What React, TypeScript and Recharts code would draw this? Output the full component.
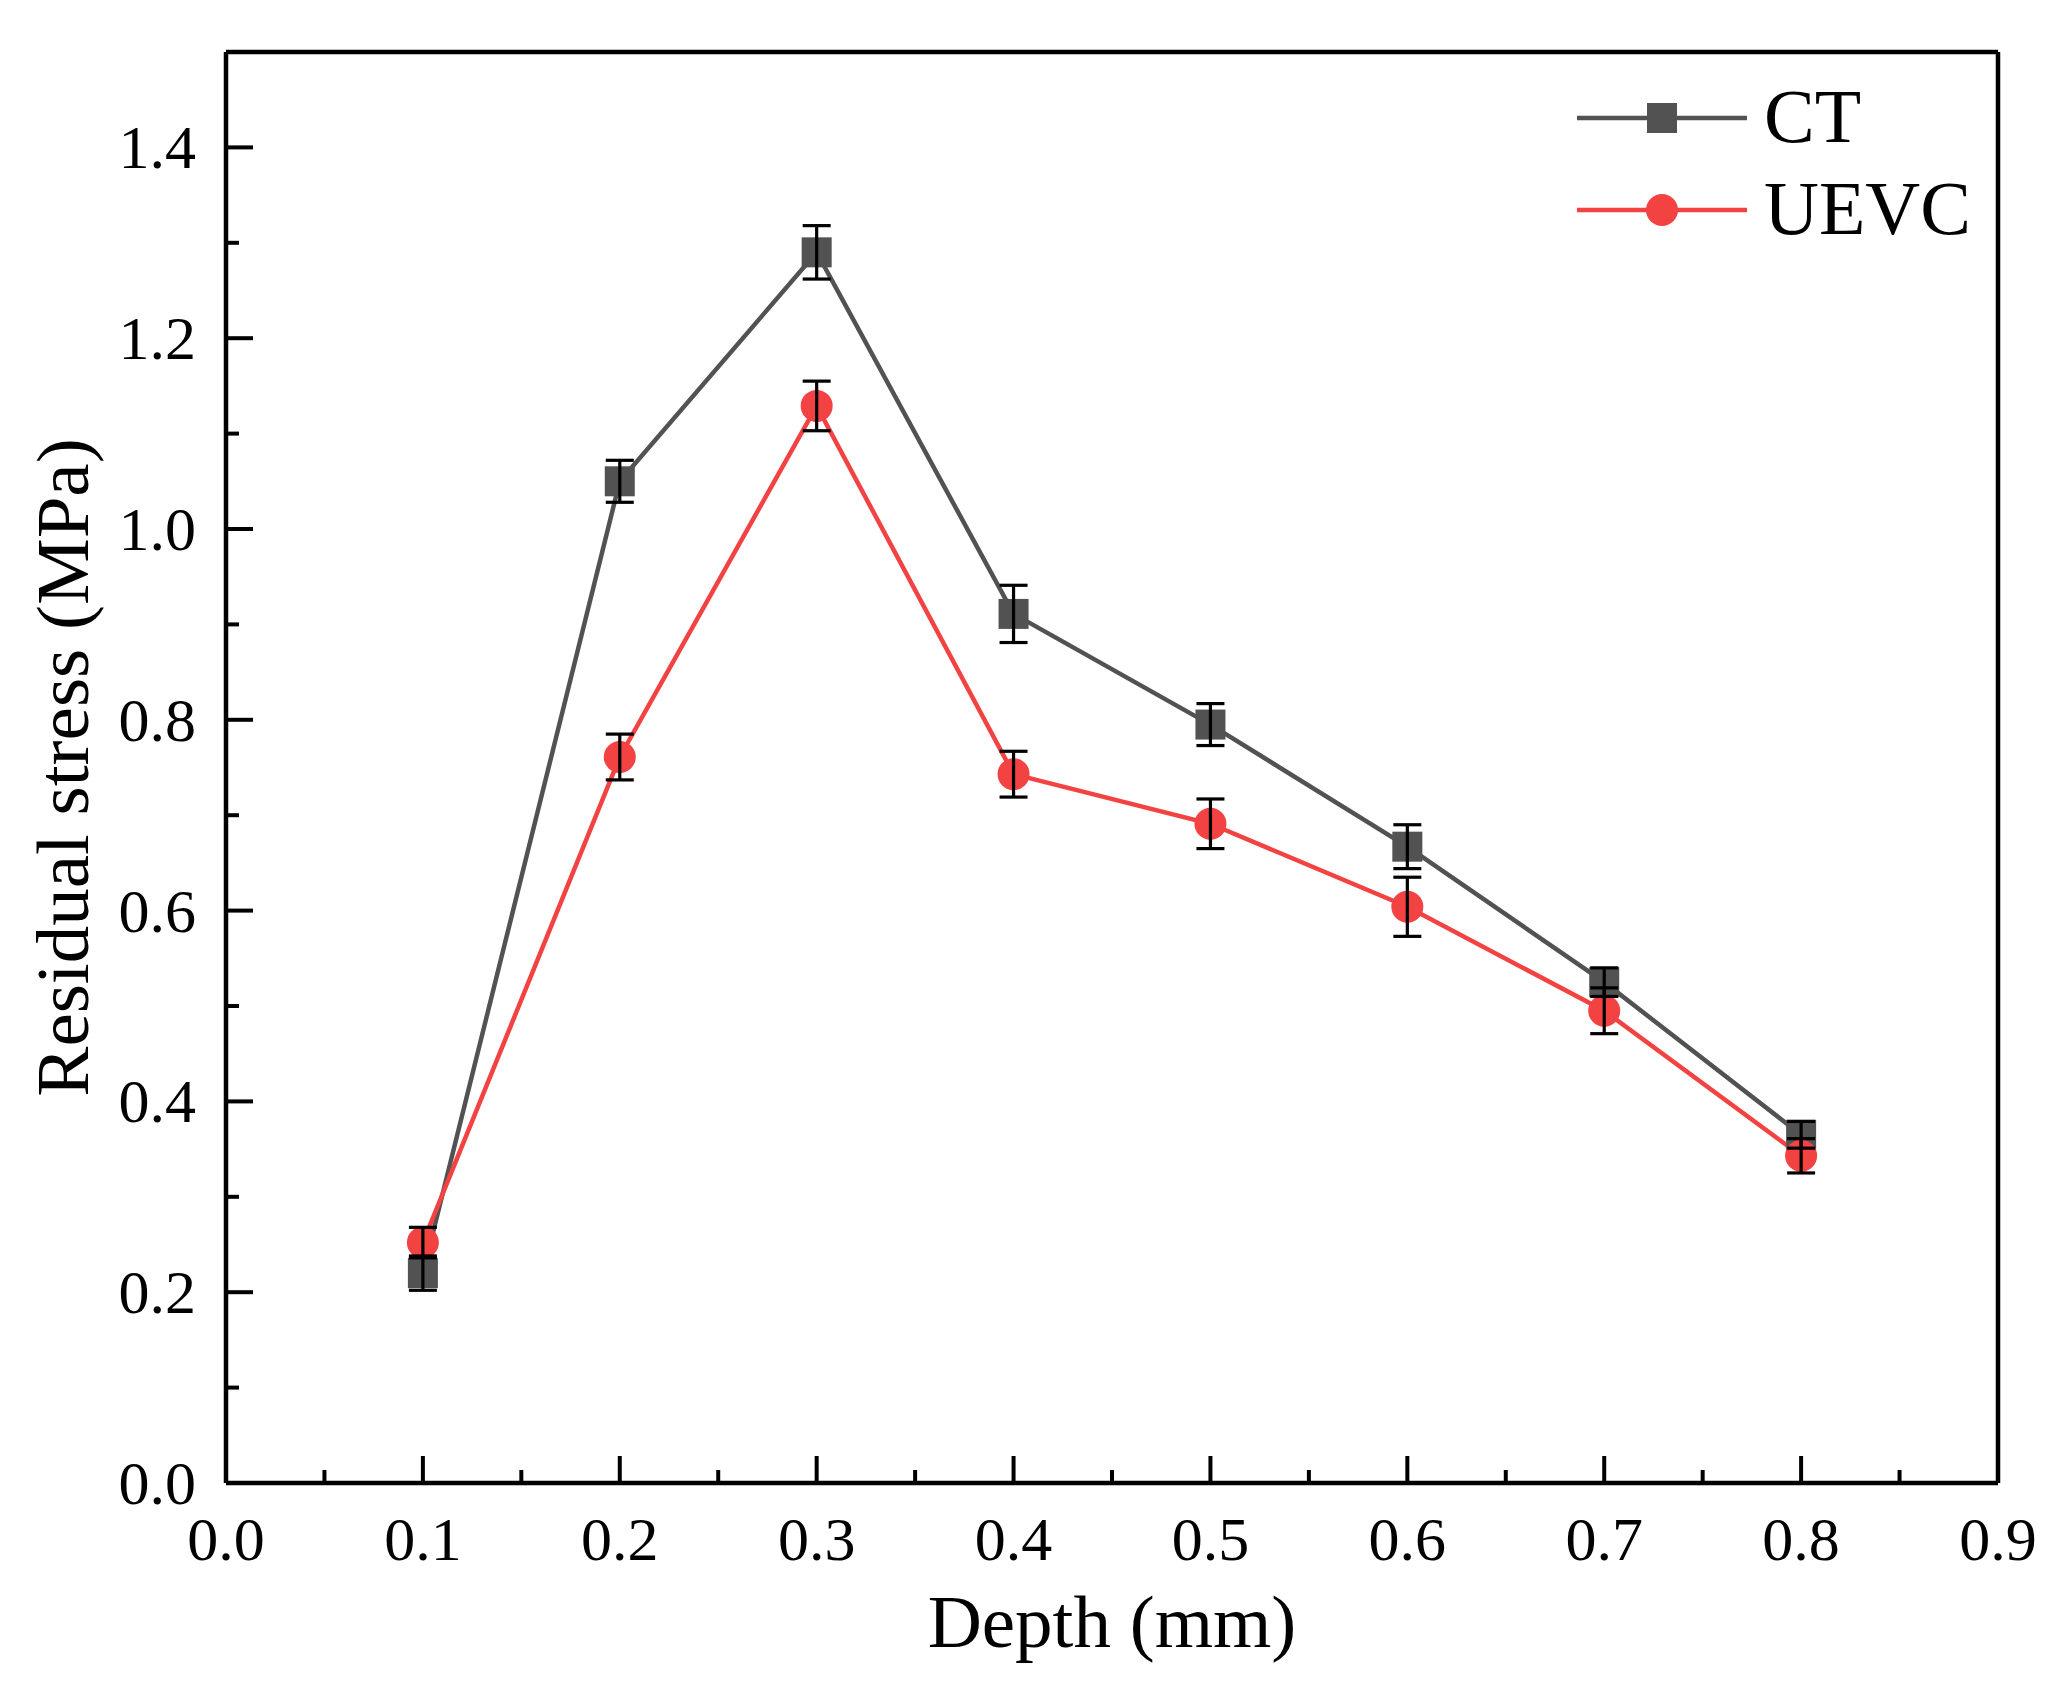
import React from 'react'
import { LineChart, Line, XAxis, YAxis, ErrorBar, Legend } from 'recharts'

// values
const depth = [0.1, 0.2, 0.3, 0.4, 0.5, 0.6, 0.7, 0.8]
const ctStress = [0.22, 1.05, 1.29, 0.911, 0.795, 0.667, 0.525, 0.365]
const ctErr = [0.018, 0.022, 0.028, 0.03, 0.022, 0.023, 0.015, 0.014]
const uevcStress = [0.252, 0.761, 1.129, 0.743, 0.691, 0.604, 0.495, 0.343]
const uevcErr = [0.016, 0.024, 0.026, 0.024, 0.026, 0.031, 0.024, 0.018]

const xTicks = [0, 0.05, 0.1, 0.15, 0.2, 0.25, 0.3, 0.35, 0.4, 0.45, 0.5, 0.55, 0.6, 0.65, 0.7, 0.75, 0.8, 0.85, 0.9]
const yTicks = [0, 0.1, 0.2, 0.3, 0.4, 0.5, 0.6, 0.7, 0.8, 0.9, 1.0, 1.1, 1.2, 1.3, 1.4]

const rows = depth.map((d, i) => ({
  depth: d,
  ct: ctStress[i],
  ctErr: ctErr[i],
  uevc: uevcStress[i],
  uevcErr: uevcErr[i],
}))

const FONT = '"Liberation Serif", "Times New Roman", Times, serif'
const GRAY = '#525252'
const RED = '#F24242'

const XTick = (props: any) => {
  const { x, y, payload } = props
  const v = payload.value
  const major = Math.abs(v * 10 - Math.round(v * 10)) < 1e-6
  return (
    <g>
      <line x1={x} x2={x} y1={y} y2={y - (major ? 27 : 13)} stroke="#000" strokeWidth={4} />
      {major && (
        <text x={x} y={y + 77} textAnchor="middle" fontSize={62} fontFamily={FONT} fill="#000">
          {v.toFixed(1)}
        </text>
      )}
    </g>
  )
}

const YTick = (props: any) => {
  const { x, y, payload } = props
  const v = payload.value
  const major = Math.round(v * 10) % 2 === 0
  return (
    <g>
      <line x1={x} x2={x + (major ? 27 : 13)} y1={y} y2={y} stroke="#000" strokeWidth={4} />
      {major && (
        <text x={x - 30} y={y + 21} textAnchor="end" fontSize={62} fontFamily={FONT} fill="#000">
          {v.toFixed(1)}
        </text>
      )}
    </g>
  )
}

const SquareDot = (props: any) => {
  const { cx, cy, index } = props
  if (cx == null || cy == null) return null
  return <rect key={'sq' + index} x={cx - 15} y={cy - 15} width={30} height={30} fill={GRAY} />
}

const renderLegend = (props: any) => {
  const items = (props.payload || []).filter((p: any) => p.type !== 'none')
  return (
    <svg width={460} height={200}>
      {items.map((p: any, i: number) => {
        const cy = 58 + i * 92
        return (
          <g key={p.value}>
            <line x1={17} x2={187} y1={cy} y2={cy} stroke={p.color} strokeWidth={4.5} />
            {p.dataKey === 'ct' ? (
              <rect x={87} y={cy - 15} width={30} height={30} fill={p.color} />
            ) : (
              <circle cx={102} cy={cy} r={16} fill={p.color} />
            )}
            <text x={204} y={cy + 24} fontSize={76} fontFamily={FONT} fill="#000">
              {p.value}
            </text>
          </g>
        )
      })}
    </svg>
  )
}

const YLabel = (props: any) => {
  const { x, y, height } = props.viewBox
  const cx = x + 88
  const cy = y + height / 2
  return (
    <text x={cx} y={cy} transform={`rotate(-90 ${cx} ${cy})`} textAnchor="middle" fontSize={75} fontFamily={FONT} fill="#000">
      Residual stress (MPa)
    </text>
  )
}

const XLabel = (props: any) => {
  const { x, y, width } = props.viewBox
  return (
    <text x={x + width / 2} y={y + 164} textAnchor="middle" fontSize={75} fontFamily={FONT} fill="#000">
      Depth (mm)
    </text>
  )
}

const frame = { stroke: '#000', strokeWidth: 4.5 }

export default function App() {
  return (
    <div style={{ position: 'absolute', left: 0, top: 0, width: 2060, height: 1698, background: '#fff' }}>
      <LineChart width={2060} height={1698} data={rows} margin={{ top: 51, right: 61, bottom: 0, left: 0 }}>
        <XAxis
          dataKey="depth"
          type="number"
          domain={[0, 0.9]}
          ticks={xTicks}
          interval={0}
          height={215}
          tickSize={0}
          tickMargin={0}
          tickLine={false}
          tick={<XTick />}
          axisLine={frame}
          label={<XLabel />}
        />
        <XAxis xAxisId="top" dataKey="depth" orientation="top" type="number" domain={[0, 0.9]} height={1} tick={false} tickLine={false} axisLine={frame} />
        <YAxis
          type="number"
          domain={[0, 1.5]}
          ticks={yTicks}
          interval={0}
          width={226}
          tickSize={0}
          tickMargin={0}
          tickLine={false}
          tick={<YTick />}
          axisLine={frame}
          label={<YLabel />}
        />
        <YAxis yAxisId="right" orientation="right" type="number" domain={[0, 1.5]} width={1} tick={false} tickLine={false} axisLine={frame} />
        <Line dataKey="ct" name="CT" stroke={GRAY} strokeWidth={4.5} dot={SquareDot} activeDot={false} isAnimationActive={false} />
        <Line dataKey="uevc" name="UEVC" stroke={RED} strokeWidth={4.5} dot={{ r: 16, fill: RED, stroke: RED, strokeWidth: 0 }} activeDot={false} isAnimationActive={false} />
        <Line xAxisId="top" yAxisId="right" dataKey="ct" stroke="none" dot={false} activeDot={false} legendType="none" isAnimationActive={false}>
          <ErrorBar dataKey="ctErr" width={14} stroke="#000" strokeWidth={3.2} direction="y" isAnimationActive={false} zIndex={2000} />
        </Line>
        <Line xAxisId="top" yAxisId="right" dataKey="uevc" stroke="none" dot={false} activeDot={false} legendType="none" isAnimationActive={false}>
          <ErrorBar dataKey="uevcErr" width={14} stroke="#000" strokeWidth={3.2} direction="y" isAnimationActive={false} zIndex={2000} />
        </Line>
        <Legend
          layout="horizontal"
          align="center"
          verticalAlign="middle"
          content={renderLegend}
          wrapperStyle={{ left: 1560, top: 60, width: 460, height: 200 }}
        />
      </LineChart>
    </div>
  )
}
